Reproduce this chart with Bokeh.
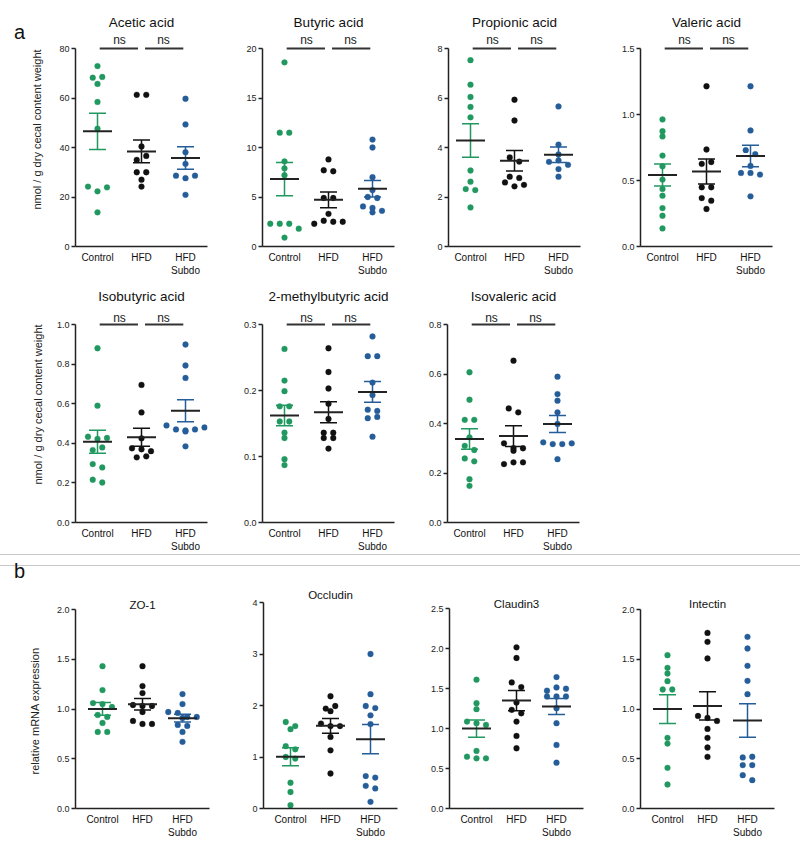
import numpy as np
from bokeh.plotting import figure
from bokeh.models import FixedTicker, Div, Range1d, PrintfTickFormatter, Title, Spacer
from bokeh.layouts import row, column
from bokeh.embed import file_html
from bokeh.resources import INLINE
from bokeh.core.properties import value

# ---------------- data ----------------
groups = ["Control", "HFD", "HFD\nSubdo"]
group_colors = ["#21985f", "#111111", "#255d99"]

acetic_control = [72.9, 68.2, 68.5, 65.7, 58.4, 47.6, 24.2, 22.3, 23.9, 13.8]
acetic_hfd = [61.3, 61.3, 40.4, 35.0, 36.6, 30.0, 30.0, 27.0, 24.2]
acetic_subdo = [59.7, 49.3, 38.1, 33.4, 28.6, 27.6, 28.6, 20.9]

butyric_control = [18.6, 11.5, 11.5, 8.6, 7.9, 7.2, 2.3, 2.3, 2.3, 1.8, 0.9]
butyric_hfd = [8.8, 7.7, 7.6, 4.9, 4.9, 3.3, 2.3, 2.6, 2.5, 2.5]
butyric_subdo = [10.8, 10.0, 7.0, 5.7, 5.0, 4.9, 4.05, 3.9, 3.45, 3.6]

propionic_control = [7.53, 6.54, 6.04, 5.64, 5.22, 3.07, 2.62, 2.32, 2.28, 1.58]
propionic_hfd = [5.93, 5.09, 3.60, 3.43, 2.82, 2.77, 2.59, 2.43, 2.49]
propionic_subdo = [5.66, 4.12, 3.72, 3.42, 3.48, 3.30, 3.13, 2.82]

valeric_control = [0.963, 0.874, 0.834, 0.689, 0.608, 0.507, 0.436, 0.385, 0.291, 0.233, 0.137]
valeric_hfd = [1.214, 0.735, 0.626, 0.640, 0.449, 0.449, 0.367, 0.347, 0.284]
valeric_subdo = [1.214, 0.879, 0.730, 0.700, 0.610, 0.557, 0.557, 0.545, 0.380]

isobutyric_control = [0.880, 0.590, 0.433, 0.422, 0.427, 0.366, 0.379, 0.295, 0.278, 0.216, 0.202]
isobutyric_hfd = [0.695, 0.556, 0.425, 0.375, 0.370, 0.360, 0.329, 0.334]
isobutyric_subdo = [0.899, 0.793, 0.730, 0.490, 0.470, 0.465, 0.470, 0.460, 0.385, 0.480]

methylbutyric_control = [0.263, 0.215, 0.199, 0.176, 0.176, 0.153, 0.153, 0.136, 0.128, 0.096, 0.087]
methylbutyric_hfd = [0.264, 0.228, 0.203, 0.180, 0.157, 0.136, 0.136, 0.128, 0.128, 0.112]
methylbutyric_subdo = [0.282, 0.252, 0.252, 0.212, 0.193, 0.171, 0.169, 0.158, 0.160, 0.130]

isovaleric_control = [0.607, 0.496, 0.415, 0.415, 0.344, 0.310, 0.293, 0.259, 0.247, 0.175, 0.148]
isovaleric_hfd = [0.654, 0.461, 0.445, 0.320, 0.300, 0.300, 0.290, 0.236, 0.243, 0.243]
isovaleric_subdo = [0.589, 0.519, 0.492, 0.445, 0.398, 0.324, 0.317, 0.317, 0.320, 0.256]

zo1_control = [1.43, 1.19, 1.06, 1.05, 1.02, 0.94, 0.92, 0.86, 0.77, 0.77]
zo1_hfd = [1.43, 1.23, 1.16, 1.04, 1.03, 1.03, 0.97, 0.88, 0.85, 0.85]
zo1_subdo = [1.15, 1.05, 0.97, 0.96, 0.92, 0.92, 0.91, 0.84, 0.83, 0.77, 0.67]

occludin_control = [1.68, 1.60, 1.54, 1.21, 1.15, 1.00, 0.97, 0.50, 0.32, 0.065]
occludin_hfd = [2.18, 1.94, 1.99, 1.89, 1.65, 1.60, 1.60, 1.39, 1.13, 0.68]
occludin_subdo = [3.00, 2.22, 1.99, 1.95, 1.81, 1.64, 0.63, 0.60, 0.44, 0.39, 0.13]

claudin3_control = [1.61, 1.317, 1.242, 1.087, 1.066, 1.045, 0.72, 0.648, 0.627, 0.627]
claudin3_hfd = [2.015, 1.881, 1.576, 1.518, 1.325, 1.233, 1.19, 1.087, 0.907, 0.753]
claudin3_subdo = [1.643, 1.472, 1.513, 1.497, 1.40, 1.40, 1.40, 1.254, 1.066, 0.794, 0.573]

intectin_control = [1.541, 1.414, 1.357, 1.28, 1.196, 1.196, 0.71, 0.653, 0.409, 0.241]
intectin_hfd = [1.765, 1.675, 1.508, 0.93, 0.91, 0.88, 0.80, 0.71, 0.613, 0.519]
intectin_subdo = [1.725, 1.608, 1.434, 1.283, 1.149, 0.513, 0.52, 0.436, 0.436, 0.335, 0.285]

ticks_acetic = [0, 20, 40, 60, 80]
ticks_butyric = [0, 5, 10, 15, 20]
ticks_propionic = [0, 2, 4, 6, 8]
ticks_valeric = [0, 0.5, 1.0, 1.5]
ticks_isobutyric = [0, 0.2, 0.4, 0.6, 0.8, 1.0]
ticks_methylbutyric = [0, 0.1, 0.2, 0.3]
ticks_isovaleric = [0, 0.2, 0.4, 0.6, 0.8]
ticks_zo1 = [0, 0.5, 1.0, 1.5, 2.0]
ticks_occludin = [0, 1, 2, 3, 4]
ticks_claudin3 = [0, 0.5, 1.0, 1.5, 2.0, 2.5]
ticks_intectin = [0, 0.5, 1.0, 1.5, 2.0]

label_scfa = "nmol / g dry cecal content weight"
label_mrna = "relative mRNA expression"

# ---------------- layout / style ----------------
FONT = "Liberation Sans"
R1 = dict(fig_top=0, frame_top=12, frame_bottom=246, fig_bottom=280, x0=-0.5, x1=2.5, fw=132,
          title_size="13.5px", ns_y=39)
R2 = dict(fig_top=280, frame_top=286, frame_bottom=522, fig_bottom=553, x0=-0.5, x1=2.5, fw=132,
          title_size="13.5px", ns_y=317)
R3 = dict(fig_top=578, frame_top=580, frame_bottom=807, fig_bottom=842, x0=-0.675, x1=2.675, fw=134,
          title_size="11.5px", ns_y=None)


def swarm(vals, ppu_y, ppu_x, gap_px=9.5, row_px=5.0):
    order = sorted(range(len(vals)), key=lambda i: -vals[i])
    rows = []
    for i in order:
        if rows and (vals[rows[-1][0]] - vals[i]) * ppu_y <= row_px:
            rows[-1].append(i)
        else:
            rows.append([i])
    offs = [0.0] * len(vals)
    for r in rows:
        r = sorted(r)
        n = len(r)
        for j, i in enumerate(r):
            offs[i] = (j - (n - 1) / 2) * gap_px / ppu_x
    return offs


def panel(title, series, ticks, fmt, R, axis_top, bl, title_y, ylabel=None, ylabel_mode="axis",
          label_standoff=12, ns=True):
    fb, ft = R["frame_bottom"], R["frame_top"]
    fh = fb - ft
    ymax = ticks[-1]
    ppu_y = (fb - axis_top) / ymax
    y_end = fh / ppu_y
    x0, x1, fw = R["x0"], R["x1"], R["fw"]
    ppu_x = fw / (x1 - x0)

    def yv(py):
        return (fb - py) / ppu_y

    p = figure(title=None, frame_width=fw, frame_height=fh,
               x_range=Range1d(x0, x1), y_range=Range1d(0, y_end),
               min_border_left=bl, min_border_right=10,
               min_border_top=ft - R["fig_top"], min_border_bottom=R["fig_bottom"] - fb,
               toolbar_location=None, output_backend="svg", outline_line_color=None,
               background_fill_color="white", border_fill_color="white")
    p.xgrid.visible = False
    p.ygrid.visible = False

    ya = p.yaxis[0]
    ya.ticker = FixedTicker(ticks=ticks)
    ya.formatter = PrintfTickFormatter(format=fmt)
    ya.bounds = (0, ymax)
    ya.major_tick_out = 4
    ya.major_tick_in = 0
    ya.minor_tick_out = 0
    ya.minor_tick_in = 0
    ya.axis_line_width = 1.5
    ya.axis_line_color = "#222222"
    ya.major_tick_line_width = 1.5
    ya.major_tick_line_color = "#222222"
    ya.major_label_standoff = 2
    ya.major_label_text_font = FONT
    ya.major_label_text_font_size = "9px"
    ya.major_label_text_color = "#222222"

    xa = p.xaxis[0]
    xa.ticker = FixedTicker(ticks=[0, 1, 2])
    xa.major_label_overrides = {0: groups[0], 1: groups[1], 2: groups[2]}
    xa.major_tick_out = 0
    xa.major_tick_in = 0
    xa.minor_tick_out = 0
    xa.minor_tick_in = 0
    xa.axis_line_width = 1.5
    xa.axis_line_color = "#222222"
    xa.major_label_standoff = 5
    xa.major_label_text_font = FONT
    xa.major_label_text_font_size = "10px"
    xa.major_label_text_color = "#111111"

    if ylabel and ylabel_mode == "axis":
        ya.axis_label = ylabel
        ya.axis_label_text_font = FONT
        ya.axis_label_text_font_size = "11px"
        ya.axis_label_text_font_style = "normal"
        ya.axis_label_text_color = "#222222"
        ya.axis_label_standoff = label_standoff
    elif ylabel:
        p.add_layout(Title(text=ylabel, align="left", offset=34, standoff=label_standoff,
                           text_font=FONT, text_font_size="11px", text_font_style="normal",
                           text_color="#222222"), "left")

    for k, (vals, col) in enumerate(zip(series, group_colors)):
        offs = swarm(vals, ppu_y, ppu_x)
        xs = [k + o for o in offs]
        p.scatter(xs, vals, size=5.8, fill_color=col, line_color=col, line_width=0.3)
        arr = np.array(vals, dtype=float)
        m = arr.mean()
        sem = arr.std(ddof=1) / np.sqrt(len(arr))
        cap = 8.5 / ppu_x
        half = 14.5 / ppu_x
        p.segment(x0=[k], y0=[m - sem], x1=[k], y1=[m + sem], line_color=col, line_width=1.5)
        p.segment(x0=[k - cap, k - cap], y0=[m - sem, m + sem], x1=[k + cap, k + cap], y1=[m - sem, m + sem],
                  line_color=col, line_width=1.5)
        p.segment(x0=[k - half], y0=[m], x1=[k + half], y1=[m], line_color="#222222", line_width=2)

    if ns:
        p.segment(x0=[0.05, 1.08], y0=[ymax, ymax], x1=[0.92, 1.95], y1=[ymax, ymax],
                  line_color="#333333", line_width=2.2)
        p.text(x=[0.5, 1.5], y=[yv(R["ns_y"])] * 2, text=["ns", "ns"], text_align="center",
               text_baseline="middle", text_font=value(FONT), text_font_size="12px", text_color="#222222")

    p.text(x=[(x0 + x1) / 2], y=[yv(title_y)], text=[title], text_align="center", text_baseline="middle",
           text_font=value(FONT), text_font_size=R["title_size"], text_color="#111111")
    return p


f_int = "%d"
f_1 = "%.1f"

p1 = panel("Acetic acid", [acetic_control, acetic_hfd, acetic_subdo], ticks_acetic, f_int, R1, 48, 46, 22,
           ylabel=label_scfa, label_standoff=13)
p2 = panel("Butyric acid", [butyric_control, butyric_hfd, butyric_subdo], ticks_butyric, f_int, R1, 48, 45, 22)
p3 = panel("Propionic acid", [propionic_control, propionic_hfd, propionic_subdo], ticks_propionic, f_int, R1, 48, 44, 22)
p4 = panel("Valeric acid", [valeric_control, valeric_hfd, valeric_subdo], ticks_valeric, f_1, R1, 48, 50, 22)

p5 = panel("Isobutyric acid", [isobutyric_control, isobutyric_hfd, isobutyric_subdo], ticks_isobutyric, f_1, R2, 324, 46, 296,
           ylabel=label_scfa, label_standoff=10)
p6 = panel("2-methylbutyric acid", [methylbutyric_control, methylbutyric_hfd, methylbutyric_subdo], ticks_methylbutyric, f_1,
           R2, 324, 45, 296)
p7 = panel("Isovaleric acid", [isovaleric_control, isovaleric_hfd, isovaleric_subdo], ticks_isovaleric, f_1, R2, 324, 43, 296)

p8 = panel("ZO-1", [zo1_control, zo1_hfd, zo1_subdo], ticks_zo1, f_1, R3, 608, 60, 603, ylabel=label_mrna,
           ylabel_mode="title", label_standoff=25, ns=False)
p9 = panel("Occludin", [occludin_control, occludin_hfd, occludin_subdo], ticks_occludin, f_int, R3, 601, 44, 593, ns=False)
p10 = panel("Claudin3", [claudin3_control, claudin3_hfd, claudin3_subdo], ticks_claudin3, f_1, R3, 607, 42, 602, ns=False)
p11 = panel("Intectin", [intectin_control, intectin_hfd, intectin_subdo], ticks_intectin, f_1, R3, 608, 47, 602, ns=False)

lab_a = Div(text='<div style="font-family:\'Liberation Sans\';font-size:20px;line-height:20px;'
                 'padding:22px 0 0 14px;color:#111">a</div>', width=28, height=280, margin=(0, 0, 0, 0))
divider = Div(text='<div style="width:800px;height:1px;background:#c8c8c8"></div>', width=800, height=1,
              margin=(0, 0, 0, 0), styles={"background-color": "#c8c8c8"})
lab_b = Div(text='<div style="font-family:\'Liberation Sans\';font-size:20px;line-height:20px;'
                 'padding:6px 0 0 14px;color:#111">b</div>', width=800, height=24, margin=(0, 0, 0, 0))

layout = column(
    row(lab_a, p1, p2, p3, p4),
    row(Spacer(width=28, height=273, margin=(0, 0, 0, 0)), p5, p6, p7),
    divider,
    lab_b,
    row(Spacer(width=14, height=264, margin=(0, 0, 0, 0)), p8, p9, p10, p11),
)

open("out.html", "w").write(file_html(layout, INLINE))
